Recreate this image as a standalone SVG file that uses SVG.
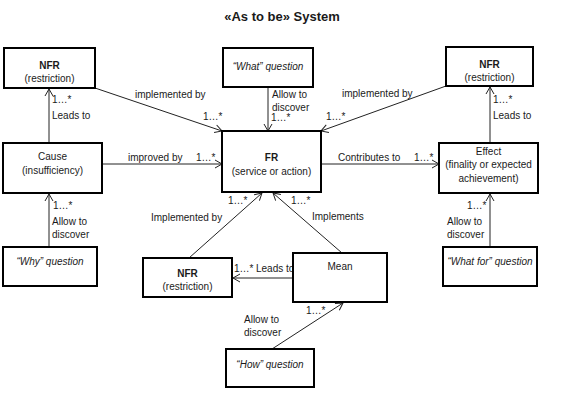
<svg xmlns="http://www.w3.org/2000/svg" width="563" height="404" viewBox="0 0 563 404">
<defs>
<style>
text{font-family:"Liberation Sans",Arial,sans-serif;font-size:10px;fill:#1a1a1a}
.c{text-anchor:middle}
.b{font-weight:bold}
.i{font-style:italic}
.t{font-size:13px;font-weight:bold}
rect{fill:#fff;stroke:#000;stroke-width:2}
.e line{stroke:#222;stroke-width:1;marker-end:url(#a)}
</style>
<marker id="a" viewBox="-8 -5 10 10" refX="0" refY="0" markerWidth="10" markerHeight="10" markerUnits="userSpaceOnUse" orient="auto">
<path d="M-7,-4 L0,0 L-7,4" fill="none" stroke="#222" stroke-width="1"/>
</marker>
</defs>
<rect x="0" y="0" width="563" height="404" style="stroke:none;fill:#fff"/>
<text class="c t" x="282" y="21">«As to be» System</text>

<g id="edges" class="e">
<line x1="49" y1="143" x2="49" y2="89"/>
<line x1="95" y1="88" x2="222" y2="131"/>
<line x1="268" y1="87" x2="268" y2="131"/>
<line x1="446" y1="86" x2="321" y2="131"/>
<line x1="490" y1="143" x2="490" y2="87"/>
<line x1="102" y1="164" x2="222" y2="164"/>
<line x1="321" y1="164" x2="439" y2="164"/>
<line x1="49" y1="247" x2="49" y2="194"/>
<line x1="490" y1="247" x2="490" y2="194"/>
<line x1="189" y1="258" x2="262" y2="193"/>
<line x1="342" y1="253" x2="273" y2="193"/>
<line x1="293" y1="278" x2="233" y2="278"/>
<line x1="272" y1="349" x2="343" y2="303"/>
</g>

<g id="edge-labels">
<text x="52" y="103">1…*</text>
<text x="52" y="119">Leads to</text>
<text x="135" y="98">implemented by</text>
<text x="203" y="120">1…*</text>
<text x="272" y="98">Allow to</text>
<text x="272" y="111">discover</text>
<text x="271" y="121">1…*</text>
<text x="342" y="97">implemented by</text>
<text x="326" y="120">1…*</text>
<text x="493" y="103">1…*</text>
<text x="493" y="119">Leads to</text>
<text x="128" y="161">improved by</text>
<text x="196" y="161">1…*</text>
<text x="338" y="161">Contributes to</text>
<text x="414" y="161">1…*</text>
<text x="53" y="209">1…*</text>
<text x="52" y="225">Allow to</text>
<text x="52" y="238">discover</text>
<text x="467" y="209">1…*</text>
<text x="447" y="225">Allow to</text>
<text x="447" y="238">discover</text>
<text x="228" y="204">1…*</text>
<text x="151" y="221">Implemented by</text>
<text x="291" y="204">1…*</text>
<text x="312" y="220">Implements</text>
<text x="234" y="272">1…*</text>
<text x="256" y="272">Leads to</text>
<text x="306" y="314">1…*</text>
<text x="244" y="323">Allow to</text>
<text x="244" y="336">discover</text>
</g>

<g id="nfr-top-left"><rect x="4" y="48" width="91" height="40"/><text class="c b" x="49.5" y="69">NFR</text><text class="c" x="49.5" y="82">(restriction)</text></g>
<g id="what-question"><rect x="223" y="48" width="90" height="39"/><text class="c i" x="268" y="70">“What” question</text></g>
<g id="nfr-top-right"><rect x="446" y="47" width="87" height="39"/><text class="c b" x="489.5" y="68">NFR</text><text class="c" x="489.5" y="81">(restriction)</text></g>
<g id="cause"><rect x="3" y="143" width="99" height="50"/><text class="c" x="52.5" y="160">Cause</text><text class="c" x="52.5" y="174">(insufficiency)</text></g>
<g id="fr"><rect x="222" y="131" width="99" height="61"/><text class="c b" x="271.5" y="161">FR</text><text class="c" x="271.5" y="175">(service or action)</text></g>
<g id="effect"><rect x="439" y="143" width="99" height="50"/><text class="c" x="488.5" y="155">Effect</text><text class="c" x="488.5" y="168">(finality or expected</text><text class="c" x="488.5" y="182">achievement)</text></g>
<g id="why-question"><rect x="3" y="247" width="94" height="39"/><text class="c i" x="50" y="265">“Why” question</text></g>
<g id="whatfor-question"><rect x="443" y="247" width="94" height="39"/><text class="c i" x="490" y="265">“What for” question</text></g>
<g id="nfr-bottom"><rect x="143" y="258" width="89" height="39"/><text class="c b" x="187.5" y="277">NFR</text><text class="c" x="187.5" y="290">(restriction)</text></g>
<g id="mean"><rect x="293" y="253" width="94" height="49"/><text class="c" x="340" y="270">Mean</text></g>
<g id="how-question"><rect x="226" y="349" width="88" height="38"/><text class="c i" x="270" y="368">“How” question</text></g>
</svg>
